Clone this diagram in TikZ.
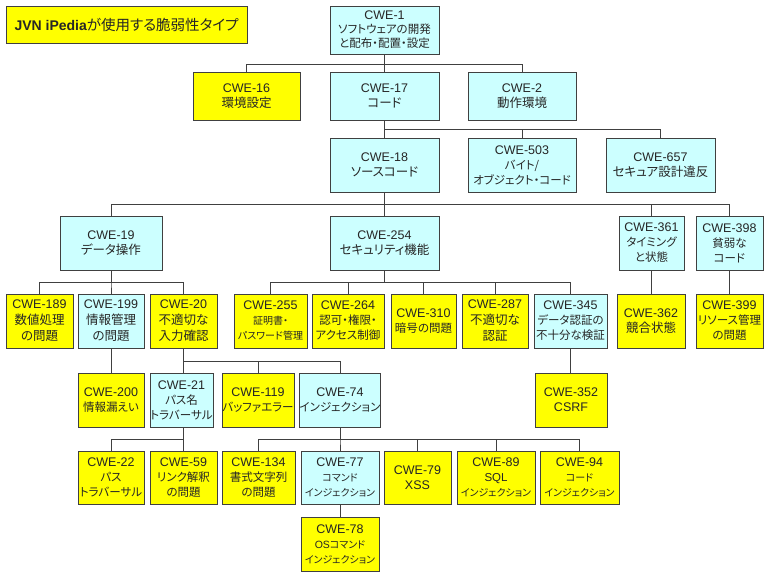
\documentclass[tikz,border=0pt]{standalone}
\usepackage{fontspec}
\setmainfont{Noto Sans CJK JP}[RawFeature=+palt]
\newfontfamily\latf{Liberation Sans}
\definecolor{cyanbox}{HTML}{CCFFFF}
\definecolor{ybox}{HTML}{FFFF00}
\definecolor{edge}{HTML}{404040}
\newcommand\cw[1]{{\latf\fontsize{12.5}{\baselineskip}\selectfont #1}}
\newcommand\jl[1]{{\fontsize{12.5}{\baselineskip}\selectfont #1}}
\newcommand\jm[1]{{\fontsize{11.5}{\baselineskip}\selectfont #1}}
\newcommand\js[1]{{\fontsize{10}{\baselineskip}\selectfont #1}}
\newcommand\bx[7]{\node[#6, minimum width={(#4-#2)*1pt}, minimum height={(#5-#3)*1pt}] (#1) at ({(#2+#4)/2*1pt},{-(#3+#5)/2*1pt}) {#7};}
\newcommand\bus[3]{\foreach \c in {#3}{\draw[conn] (#1.south) -- (#1.south |- 0,-#2pt) -| (\c.north);}}
\newcommand\downlink[2]{\draw[conn] (#1.south) -- (#1.south |- #2.north);}
\tikzset{
  box/.style={draw=edge, line width=0.9pt, inner sep=0pt, align=center, text=black!85, font=\fontsize{12}{15}\selectfont},
  cy/.style={box, fill=cyanbox},
  ye/.style={box, fill=ybox},
  tight/.style={font=\fontsize{12}{14}\selectfont},
  loose/.style={font=\fontsize{12}{16}\selectfont},
  conn/.style={draw=edge, line width=0.8pt}
}
\begin{document}
\begin{tikzpicture}
\useasboundingbox[fill=white] (0,0) rectangle (768pt,-576pt);
% title
\bx{title}{6}{6}{247}{43}{ye}{{\latf\bfseries\fontsize{14}{16}\selectfont JVN iPedia}{\fontsize{14.5}{16}\selectfont が使用する脆弱性タイプ}}
% row 1
\bx{c1}{330}{6}{439}{54}{cy,tight}{\cw{CWE-1}\\\jm{ソフトウェアの開発}\\\jm{と配布・配置・設定}}
% row 2
\bx{c16}{193}{72}{300}{120}{ye}{\cw{CWE-16}\\\jl{環境設定}}
\bx{c17}{330}{72}{439}{120}{cy}{\cw{CWE-17}\\\jl{コード}}
\bx{c2}{468}{72}{576}{120}{cy}{\cw{CWE-2}\\\jl{動作環境}}
% row 3
\bx{c18}{330}{138}{439}{192}{cy}{\cw{CWE-18}\\\jl{ソースコード}}
\bx{c503}{468}{138}{576}{192}{cy}{\cw{CWE-503}\\\jm{バイト/}\\\jm{オブジェクト・コード}}
\bx{c657}{606}{138}{715}{192}{cy}{\cw{CWE-657}\\\jl{セキュア設計違反}}
% row 4
\bx{c19}{60}{216}{162}{270}{cy}{\cw{CWE-19}\\\jl{データ操作}}
\bx{c254}{330}{216}{439}{270}{cy}{\cw{CWE-254}\\\jl{セキュリティ機能}}
\bx{c361}{619}{216}{684}{270}{cy}{\cw{CWE-361}\\\jm{タイミング}\\\jm{と状態}}
\bx{c398}{696}{216}{763}{270}{cy}{\cw{CWE-398}\\\jm{貧弱な}\\\jm{コード}}
% row 5
\bx{c189}{6}{294}{73}{348}{ye,loose}{\cw{CWE-189}\\\jl{数値処理}\\\jl{の問題}}
\bx{c199}{78}{294}{144}{348}{cy,loose}{\cw{CWE-199}\\\jl{情報管理}\\\jl{の問題}}
\bx{c20}{150}{294}{217}{348}{ye,loose}{\cw{CWE-20}\\\jl{不適切な}\\\jl{入力確認}}
\bx{c255}{234}{294}{307}{348}{ye}{\cw{CWE-255}\\\js{証明書・}\\\js{パスワード管理}}
\bx{c264}{312}{294}{384}{348}{ye}{\cw{CWE-264}\\\jm{認可・権限・}\\\jm{アクセス制御}}
\bx{c310}{391}{294}{456}{348}{ye}{\cw{CWE-310}\\\jm{暗号の問題}}
\bx{c287}{462}{294}{528}{348}{ye,loose}{\cw{CWE-287}\\\jl{不適切な}\\\jl{認証}}
\bx{c345}{534}{294}{607}{348}{cy}{\cw{CWE-345}\\\jm{データ認証の}\\\jm{不十分な検証}}
\bx{c362}{617}{294}{685}{348}{ye}{\cw{CWE-362}\\\jl{競合状態}}
\bx{c399}{696}{294}{763}{348}{ye}{\cw{CWE-399}\\\jm{リソース管理}\\\jm{の問題}}
% row 6
\bx{c200}{78}{373}{144}{427}{ye}{\cw{CWE-200}\\\jm{情報漏えい}}
\bx{c21}{150}{373}{213}{427}{cy}{\cw{CWE-21}\\\jm{パス名}\\\jm{トラバーサル}}
\bx{c119}{222}{373}{294}{427}{ye}{\cw{CWE-119}\\\jm{バッファエラー}}
\bx{c74}{301}{373}{379}{427}{cy}{\cw{CWE-74}\\\jm{インジェクション}}
\bx{c352}{535}{373}{607}{427}{ye}{\cw{CWE-352}\\\cw{CSRF}}
% row 7
\bx{c22}{78}{451}{144}{504}{ye}{\cw{CWE-22}\\\jm{パス}\\\jm{トラバーサル}}
\bx{c59}{150}{451}{217}{504}{ye}{\cw{CWE-59}\\\jm{リンク解釈}\\\jm{の問題}}
\bx{c134}{222}{451}{295}{504}{ye}{\cw{CWE-134}\\\jm{書式文字列}\\\jm{の問題}}
\bx{c77}{301}{451}{379}{504}{cy}{\cw{CWE-77}\\\js{コマンド}\\\js{インジェクション}}
\bx{c79}{384}{451}{451}{504}{ye}{\cw{CWE-79}\\\cw{XSS}}
\bx{c89}{457}{451}{535}{504}{ye}{\cw{CWE-89}\\{\latf\fontsize{11.5}{\baselineskip}\selectfont SQL}\\\js{インジェクション}}
\bx{c94}{540}{451}{619}{504}{ye}{\cw{CWE-94}\\\js{コード}\\\js{インジェクション}}
% row 8
\bx{c78}{301}{517}{379}{571}{ye}{\cw{CWE-78}\\{\latf\fontsize{10.5}{\baselineskip}\selectfont OS}\js{コマンド}\\\js{インジェクション}}
% connectors
\bus{c1}{64}{c16,c17,c2}
\bus{c17}{129}{c18,c503,c657}
\bus{c18}{204}{c19,c254,c361,c398}
\bus{c19}{282}{c189,c199,c20}
\bus{c254}{282}{c255,c264,c310,c287,c345}
\downlink{c361}{c362}
\downlink{c398}{c399}
\downlink{c199}{c200}
\downlink{c345}{c352}
\downlink{c20}{c21}
\bus{c20}{361}{c119,c74}
\draw[conn] (c21.south -| c20.south) -- (c20.south |- 0,-439pt) -| (c22.north);
\draw[conn] (c21.south -| c20.south) -- (c59.north);
\bus{c74}{439}{c134,c77,c79,c89,c94}
\downlink{c77}{c78}
\end{tikzpicture}
\end{document}
